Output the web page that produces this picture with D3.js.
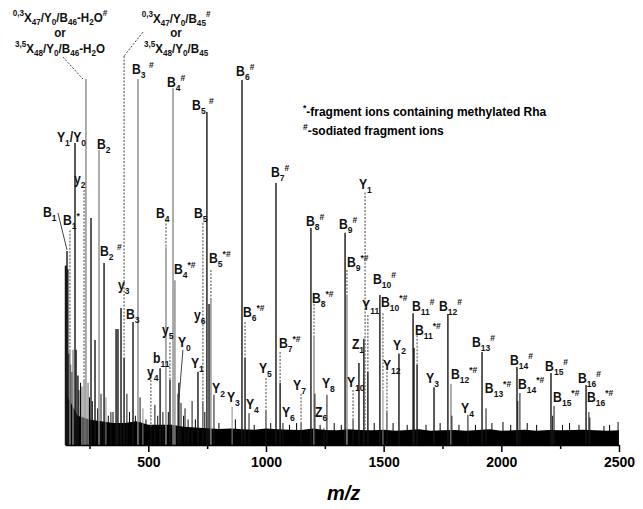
<!DOCTYPE html>
<html>
<head>
<meta charset="utf-8">
<script src="https://cdn.jsdelivr.net/npm/d3@7"></script>
<style>
body { margin: 0; background: #fff; }
text { font-family: "Liberation Sans", Arial, sans-serif; }
</style>
</head>
<body>
<script>
// m/z axis ticks
var mzTicks = [500, 1000, 1500, 2000, 2500];
var mzMinor = [250, 750, 1250, 1750, 2250];

// peaks: [m/z, relative intensity, tone 0 = black / 1 = gray]
var peaks = [
  [148,49,0],[151,49,0],[154.5,53,0],[158,48,0],[163,25,0],[167,26,1],[180,26,1],
  [188.5,82.5,0],[193,26,0],[201,19,0],[218,16,1],[227,17.8,1],[235,100,1],[244,17,1],
  [256.5,62,0],[273.5,28.7,0],[290.5,80.6,1],[299,14,0],[312,49.7,0],[320,13,1],[341,9,0],
  [363,31.7,0],[371,31.7,0],[384,37.4,0],[397,23.8,0],[409,14,0],[435,33.6,0],[456,100,1],
  [465,13,0],[477,10,1],[511,5,0],[528,11,0],[550,21,0],[562,9,0],[575,54,1],[592,17.8,0],
  [605,97.5,1],[613,45,1],[626,14,0],[630,17,0],[639,11.5,0],[656,10,0],[669,7,0],[686,12,0],
  [711,20,0],[732,12,0],[749,91,0],[758,38.5,0],[766,39.6,1],[779,13.7,0],[856,10.4,1],
  [898,99.7,0],[911,23.8,0],[928,8.7,0],[1000,9.5,0],[1042.5,71.6,0],[1060,17,0],[1072,6,0],
  [1149,6,0],[1191,59.3,0],[1204,29.5,1],[1208,14,0],[1246.5,4.5,0],[1259,13.7,0],
  [1336,58,0],[1344,41,1],[1370,7,0],[1395,22.4,0],[1416,29,0],[1433,20,0],[1484,41,0],
  [1497,15,1],[1514,9,0],[1565,25,0],[1625,36,0],[1629,26.5,0],[1642,22,0],[1714,15.8,0],
  [1773,35.8,0],[1786,16.7,1],[1790,8,0],[1858,8.2,0],[1918,25.4,0],[1935,10,0],
  [2066.5,21.3,0],[2070,12,0],[2079,14.2,0],[2211,19.7,0],[2218,8,0],[2224,10.7,0],
  [2360,16.4,0],[2372,9,0],[2376,7.5,0],[2496,6.3,0]
];

// small spikes sitting on the noise floor
var spikes = [
  [170,22],[176,20],[205,15],[212,17],[250,13],[262,12],[285,10],[330,8],[350,9],[420,9],
  [445,8],[490,7],[540,8],[585,9],[650,8],[700,7],[740,9],[800,6],[870,7],[950,5.5],[1020,6],
  [1100,5.5],[1130,6],[1230,5.5],[1290,6],[1320,5.5],[1460,6],[1540,6],[1600,5.5],[1680,5.5],
  [1740,6],[1820,5.5],[1890,5.5],[1960,6],[2007,6.3],[2040,5.5],[2110,6],[2150,5.5],[2260,5.5],
  [2290,6],[2330,5.5],[2436,5.2],[2460,5.5]
];

// noise floor, one level per 50 m/z from 150 to 2500
var noiseLevel = [14,8,7,6.5,6,6,6.5,5.5,5.5,5.5,5,4.8,4.6,4.4,4.5,4.3,4.2,4.5,4.3,4.2,
  4.1,4.5,4.1,4,4.3,4.1,4,4.2,3.9,4.1,4.3,3.9,4,4.1,3.9,4.1,4.3,3.9,4,4.2,
  3.9,4.1,4,4.1,4.2,4,3.9,4];

// dotted vertical leaders: [m/z, from, to]
var vLeaders = [
  [167,58.7,26],[227,69.7,17.8],[397,106.3,23.8],[575,61.5,54],[592,28,17.8],[732,60.7,12],
  [766,47.8,39.6],[911,33.6,23.8],[1000,18.3,9.5],[1060,25.4,17],[1149,14,6],[1204,38.5,29.5],
  [1344,47.8,41],[1370,15,7],[1421,69,4],[1433,35.5,20],[1497,36,15],[1514,20,9],
  [1642,30,22],[511,19.7,5]
];
// slanted leaders: [m/z1, int1, m/z2, int2, dotted]
var dLeaders = [
  [137.5,106,222,100,1],[477,112.8,397,106.3,1],[116,63.4,154.5,53.3,0],[647,26,630,12.3,0]
];

// peak labels: [text, m/z (left), intensity (baseline)]
var labels = [
  ["B_1",52.5,62.3],["B_1^*",137.5,60.1],["Y_1/Y_0",112,82.8],["B_2",282,80.9],["y_2",184,71.3],
  ["B_2 ^#",295,51.6],["y_3",371,42.3],["B_3",405,34.4],["B_3 ^#",431,101.4],["B_4^#",579,97.8],
  ["B_5 ^#",686,91.5],["B_6^#",873,100.8],["B_7^#",1021,73.2],["B_8^#",1170,59.8],["B_9^#",1310,59.0],
  ["Y_1",1395,69.9],["B_9^{*#}",1344,48.6],["B_{10}^#",1455,44.0],["B_{10}^{*#}",1489,37.7],
  ["Y_{11}",1408,36.9],["B_{11}^#",1620,36.6],["B_{12}^#",1735,36.6],["B_{11}^{*#}",1633,30.1],
  ["Y_2",1540,26.0],["Y_{12}",1497,20.5],["B_{12}^{*#}",1786,18.0],["Y_3",1680,16.9],
  ["B_{13}^#",1875,26.8],["B_{13}^{*#}",1930,14.2],["Y_4",1829,8.7],["B_{14}^#",2037,21.9],
  ["B_{14}^{*#}",2071,15.3],["B_{15}^#",2186,20.2],["B_{15}^{*#}",2220,11.7],["B_{16}^#",2326,16.9],
  ["B_{16}^{*#}",2364,11.7],["B_4",533,62.0],["B_5",694,62.0],["B_4^{*#}",609,46.7],
  ["B_5^{*#}",758,49.7],["y_5",558,30.1],["Y_0",626,26.8],["b_{11}",520,22.4],["y_4",494,18.6],
  ["Y_1",681,21.0],["y_6",694,34.2],["Y_2",771,14.2],["Y_3",834,11.7],["Y_4",915,9.8],
  ["Y_5",970,19.7],["B_6^{*#}",902,35.0],["B_7^{*#}",1055,26.5],["Y_6",1068,7.7],["Y_7",1115,15.0],
  ["Y_8",1238,15.6],["Z_6",1208,7.7],["Y_{10}",1344,15.8],["Z_1",1365,26.2],["B_8^{*#}",1195,38.8]
];

// assignment notes above the tallest peaks: [line, m/z (centre), intensity (baseline)]
var notes = [
  ["^{0,3}X_{47}/Y_0/B_{46}-H_2O^#",125,115.6],["or",125,111.5],["^{3,5}X_{48}/Y_0/B_{46}-H_2O",125,107.1],
  ["^{0,3}X_{47}/Y_0/B_{45}^#",618,115.3],["or",618,111.5],["^{3,5}X_{48}/Y_0/B_{45}",618,107.1]
];

var legendLines = ["^*-fragment ions containing methylated Rha", "^#-sodiated fragment ions"];

var width = 643, height = 509;
var svg = d3.select("body").append("svg")
    .attr("width", width)
    .attr("height", height);

var x = d3.scaleLinear().domain([146, 2500]).range([65, 619]);
var y = d3.scaleLinear().domain([0, 100]).range([445, 79]);

// writes a string with _sub and ^sup parts into a text element
function richText(sel, str, fs, small, subOff) {
    var re = /([_^])(\{[^}]*\}|.)|([^_^]+)/g, m, cur = 0;
    while ((m = re.exec(str))) {
        var t, size = fs, off = 0;
        if (m[3]) { t = m[3]; }
        else {
            t = m[2].replace(/[{}]/g, "");
            size = fs * small;
            off = m[1] == "_" ? fs * subOff : -fs * 0.45;
        }
        sel.append("tspan").attr("font-size", size).attr("dy", off - cur).text(t);
        cur = off;
    }
}

// noise floor
var noiseData = noiseLevel.map(function(v, i) { return [150 + i * 50, v]; });
svg.append("path")
    .datum(noiseData)
    .attr("fill", "#000")
    .attr("d", d3.area()
        .x(function(d) { return x(d[0]); })
        .y0(y(0))
        .y1(function(d) { return y(d[1]); }));

svg.selectAll(".spike")
    .data(spikes)
    .enter().append("line")
    .attr("x1", function(d) { return x(d[0]); })
    .attr("x2", function(d) { return x(d[0]); })
    .attr("y1", y(0))
    .attr("y2", function(d) { return y(d[1]); })
    .attr("stroke", "#000")
    .attr("stroke-width", 1);

// peaks
svg.selectAll(".peak")
    .data(peaks)
    .enter().append("line")
    .attr("x1", function(d) { return x(d[0]); })
    .attr("x2", function(d) { return x(d[0]); })
    .attr("y1", y(0))
    .attr("y2", function(d) { return y(d[1]); })
    .attr("stroke", function(d) { return d[2] ? "#8a8a8a" : "#151515"; })
    .attr("stroke-width", function(d) { return d[1] > 15 ? 1.4 : 1; });

// leaders
svg.selectAll(".vlead")
    .data(vLeaders)
    .enter().append("line")
    .attr("x1", function(d) { return x(d[0]); })
    .attr("x2", function(d) { return x(d[0]); })
    .attr("y1", function(d) { return y(d[1]); })
    .attr("y2", function(d) { return y(d[2]); })
    .attr("stroke", "#555")
    .attr("stroke-width", 1.1)
    .attr("stroke-dasharray", "2,1.5");

svg.selectAll(".dlead")
    .data(dLeaders)
    .enter().append("line")
    .attr("x1", function(d) { return x(d[0]); })
    .attr("y1", function(d) { return y(d[1]); })
    .attr("x2", function(d) { return x(d[2]); })
    .attr("y2", function(d) { return y(d[3]); })
    .attr("stroke", "#444")
    .attr("stroke-width", 1)
    .attr("stroke-dasharray", function(d) { return d[4] ? "2,1.5" : null; });

// axis
var axis = svg.append("g")
    .attr("transform", "translate(0," + y(0) + ")")
    .call(d3.axisBottom(x).tickValues(mzTicks).tickFormat(d3.format("d"))
        .tickSize(7).tickSizeOuter(0).tickPadding(5));
axis.select(".domain").attr("stroke-width", 1.5);
axis.selectAll(".tick line").attr("stroke-width", 1.5);
axis.selectAll("text")
    .attr("font-size", 14)
    .attr("font-weight", "bold")
    .attr("font-family", "Liberation Sans, Arial, sans-serif");

svg.append("g")
    .attr("transform", "translate(0," + y(0) + ")")
    .call(d3.axisBottom(x).tickValues(mzMinor).tickSize(4).tickFormat(""))
    .call(function(g) { g.select(".domain").remove(); })
    .selectAll("line").attr("stroke-width", 1.5);

svg.append("text")
    .attr("x", x(1330))
    .attr("y", 500)
    .attr("text-anchor", "middle")
    .attr("font-size", 20)
    .attr("font-weight", "bold")
    .attr("font-style", "italic")
    .text("m/z");

// peak labels (condensed, like the original narrow face)
svg.selectAll(".lab")
    .data(labels)
    .enter().append("g")
    .attr("transform", function(d) { return "translate(" + x(d[1]) + "," + y(d[2]) + ") scale(0.87,1)"; })
    .append("text")
    .attr("fill", "#111")
    .attr("font-weight", "bold")
    .each(function(d) { richText(d3.select(this), d[0], 14, 0.7, 0.3); });

svg.selectAll(".note")
    .data(notes)
    .enter().append("g")
    .attr("transform", function(d) { return "translate(" + x(d[1]) + "," + y(d[2]) + ") scale(0.86,1)"; })
    .append("text")
    .attr("text-anchor", "middle")
    .attr("fill", "#111")
    .attr("font-weight", "bold")
    .each(function(d) { richText(d3.select(this), d[0], 13.5, 0.7, 0.22); });

// legend
svg.selectAll(".leg")
    .data(legendLines)
    .enter().append("text")
    .attr("x", 303)
    .attr("y", function(d, i) { return 116 + i * 19; })
    .attr("font-size", 12)
    .attr("font-weight", "bold")
    .each(function(d) { richText(d3.select(this), d, 12, 0.7, 0.3); });
</script>
</body>
</html>
